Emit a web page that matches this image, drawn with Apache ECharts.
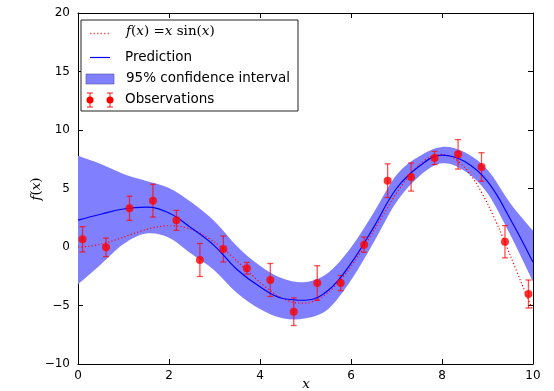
<!DOCTYPE html>
<html><head><meta charset="utf-8">
<script src="https://cdn.jsdelivr.net/npm/echarts@6/dist/echarts.min.js"></script>
<style>html,body{margin:0;padding:0;background:#fff}#c{width:554px;height:391px}</style>
</head><body><div id="c"></div>
<script>
// ---- data ----
const xTickValues = [0, 2, 4, 6, 8, 10];
const yTickValues = [-10, -5, 0, 5, 10, 15, 20];

// true function f(x) = x sin(x) (dotted)
const fX = [0,0.25,0.5,0.75,1,1.25,1.5,1.75,2,2.25,2.5,2.75,3,3.25,3.5,3.75,4,4.25,4.5,4.75,5,5.25,5.5,5.75,6,6.25,6.5,6.75,7,7.25,7.5,7.75,8,8.25,8.5,8.75,9,9.25,9.5,9.75,10];
const fY = [0,0.062,0.240,0.511,0.841,1.186,1.496,1.722,1.819,1.751,1.496,1.050,0.423,-0.352,-1.228,-2.143,-3.027,-3.804,-4.399,-4.747,-4.795,-4.509,-3.880,-2.923,-1.677,-0.207,1.398,3.037,4.599,5.967,7.035,7.708,7.915,7.613,6.787,5.466,3.709,1.612,-0.714,-3.115,-5.440];

// GP prediction and 95% band
const predX = [0,0.5,1,1.5,2,2.5,3,3.5,4,4.5,5,5.5,6,6.5,7,7.5,8,8.5,9,9.5,10];
const predY = [2.3,2.8,3.25,3.4,2.9,1.6,0.1,-1.95,-3.4,-4.4,-4.55,-3.7,-1.4,1.7,5.0,6.9,7.85,7.3,5.6,2.4,-1.3];
const bandUpper = [7.8,7.1,6.25,5.65,5.05,3.8,2.2,0.05,-1.6,-2.7,-3.0,-2.2,-0.05,2.95,6.15,7.75,8.55,8.1,6.6,3.75,1.4];
const bandLower = [-3.2,-1.5,0.25,1.15,0.8,-0.6,-2.0,-3.95,-5.3,-6.1,-6.1,-5.3,-2.85,0.4,3.85,6.05,7.15,6.5,4.6,1.05,-2.95];

// observations with error bars
const obsX = [0.1,0.616,1.132,1.647,2.163,2.679,3.195,3.711,4.226,4.742,5.258,5.774,6.289,6.805,7.321,7.837,8.353,8.868,9.384,9.9];
const obsY = [0.66,-0.03,3.31,3.96,2.28,-1.11,-0.17,-1.82,-2.82,-5.53,-3.08,-3.08,0.2,5.67,5.98,7.61,7.92,6.84,0.45,-4.02];
const obsErr = [1.08,0.79,1.03,1.40,0.85,1.41,1.11,0.50,1.41,1.18,1.48,0.65,0.65,1.44,1.20,0.56,1.26,1.22,1.38,1.20];

const legendLabels = ['f(x) = x sin(x)', 'Prediction', '95% confidence interval', 'Observations'];

// ---- chart ----
const chart = echarts.init(document.getElementById('c'), null, {renderer: 'canvas'});
const RED = '#ff0000', BLUE = '#0000ff', FILL = '#8080ff', ERR = 'rgba(255,0,0,0.7)';
const tickFont = {fontFamily: 'DejaVu Sans', fontSize: 12, color: '#000',
  formatter: v => String(v).replace('-', '\u2212')};
const mathRich = {
  i: {fontFamily: 'DejaVu Serif', fontStyle: 'italic', fontSize: 13.5, color: '#000'},
  r: {fontFamily: 'DejaVu Serif', fontSize: 13.5, color: '#000'}
};
function axisCommon(extra) {
  return Object.assign({
    type: 'value',
    axisLine: {show: true, onZero: false, lineStyle: {color: '#000', width: 1}},
    axisTick: {show: true, inside: true, length: 5, lineStyle: {color: '#000'}},
    splitLine: {show: false}
  }, extra);
}
const xMin = xTickValues[0], xMax = xTickValues[xTickValues.length - 1];
const yMin = yTickValues[0], yMax = yTickValues[yTickValues.length - 1];

// Catmull-Rom spline path segment through pixel points (rendering only)
function splinePath(pts, start) {
  let d = start ? 'M' + pts[0][0] + ',' + pts[0][1] : 'L' + pts[0][0] + ',' + pts[0][1];
  for (let i = 0; i < pts.length - 1; i++) {
    const p0 = pts[Math.max(i - 1, 0)], p1 = pts[i], p2 = pts[i + 1], p3 = pts[Math.min(i + 2, pts.length - 1)];
    const c1 = [p1[0] + (p2[0] - p0[0]) / 6, p1[1] + (p2[1] - p0[1]) / 6];
    const c2 = [p2[0] - (p3[0] - p1[0]) / 6, p2[1] - (p3[1] - p1[1]) / 6];
    d += 'C' + c1[0] + ',' + c1[1] + ',' + c2[0] + ',' + c2[1] + ',' + p2[0] + ',' + p2[1];
  }
  return d;
}

const bandData = predX.map((x, i) => [x, bandLower[i], bandUpper[i]]);

const option = {
  animation: false,
  backgroundColor: '#fff',
  grid: {left: 78, right: 21, top: 13, bottom: 27, show: false, containLabel: false, outerBoundsMode: 'none'},
  xAxis: [
    axisCommon({min: xMin, max: xMax, interval: 2, position: 'bottom',
      axisLabel: Object.assign({margin: 6}, tickFont)}),
    axisCommon({min: xMin, max: xMax, interval: 2, position: 'top', axisLabel: {show: false}})
  ],
  yAxis: [
    axisCommon({min: yMin, max: yMax, interval: 5, position: 'left',
      axisLabel: Object.assign({margin: 8}, tickFont)}),
    axisCommon({min: yMin, max: yMax, interval: 5, position: 'right', axisLabel: {show: false}})
  ],
  series: [
    {
      name: legendLabels[2], type: 'custom', clip: true, silent: true, z: 1,
      data: [0],
      renderItem: function (params, api) {
        const up = bandData.map(d => api.coord([d[0], d[2]]));
        const lo = bandData.map(d => api.coord([d[0], d[1]])).reverse();
        const path = splinePath(up, true) + splinePath(lo, false) + 'Z';
        return {type: 'path', shape: {pathData: path}, style: {fill: FILL, stroke: null}};
      }
    },
    {
      name: legendLabels[0], type: 'line', data: fX.map((x, i) => [x, fY[i]]),
      symbol: 'none', smooth: 0.3,
      lineStyle: {color: RED, width: 1.2, type: [1.2, 2.2]}, z: 3
    },
    {
      name: 'errbars', type: 'custom',
      data: obsX.map((x, i) => [x, obsY[i] - obsErr[i], obsY[i] + obsErr[i]]),
      encode: {x: 0, y: [1, 2]},
      renderItem: function (params, api) {
        const x = api.value(0);
        const p1 = api.coord([x, api.value(1)]);
        const p2 = api.coord([x, api.value(2)]);
        const st = {stroke: ERR, lineWidth: 1.3};
        return {type: 'group', children: [
          {type: 'line', shape: {x1: p1[0], y1: p1[1], x2: p2[0], y2: p2[1]}, style: st},
          {type: 'line', shape: {x1: p1[0] - 3, y1: p1[1], x2: p1[0] + 3, y2: p1[1]}, style: st},
          {type: 'line', shape: {x1: p2[0] - 3, y1: p2[1], x2: p2[0] + 3, y2: p2[1]}, style: st}
        ]};
      },
      z: 4
    },
    {
      name: legendLabels[1], type: 'line', data: predX.map((x, i) => [x, predY[i]]),
      symbol: 'none', smooth: 0.4, lineStyle: {color: BLUE, width: 1.2}, z: 5
    },
    {
      name: legendLabels[3], type: 'scatter', data: obsX.map((x, i) => [x, obsY[i]]),
      symbol: 'circle', symbolSize: 8, itemStyle: {color: RED}, z: 6
    }
  ],
  graphic: [
    // axis titles
    {type: 'text', x: 306, y: 384, z: 50, style: {
      text: '{i|x}', rich: mathRich, align: 'center', verticalAlign: 'middle'}},
    {type: 'text', x: 36, y: 189, rotation: Math.PI / 2, z: 50, style: {
      text: '{i|f}{r|(}{i|x}{r|)}', rich: mathRich, align: 'center', verticalAlign: 'middle'}},
    // legend
    {type: 'rect', shape: {x: 81, y: 20, width: 217, height: 91},
      style: {fill: '#fff', stroke: '#222', lineWidth: 1}, z: 100},
    {type: 'line', shape: {x1: 90, y1: 33.5, x2: 110, y2: 33.5},
      style: {stroke: '#ff6060', lineWidth: 1.5, lineDash: [1.5, 2]}, z: 101},
    {type: 'text', x: 126, y: 24, z: 101, style: {
      text: '{i|f}{r|(}{i|x}{r|) =}{i|x}{r| sin(}{i|x}{r|)}', rich: mathRich}},
    {type: 'line', shape: {x1: 90, y1: 57.5, x2: 110, y2: 57.5},
      style: {stroke: BLUE, lineWidth: 1.2}, z: 101},
    {type: 'text', x: 125, y: 50, z: 101, style: {
      text: legendLabels[1], fontFamily: 'DejaVu Sans', fontSize: 13.5, fill: '#000'}},
    {type: 'rect', shape: {x: 86, y: 74, width: 28, height: 10},
      style: {fill: FILL, stroke: '#5050aa', lineWidth: 0.6}, z: 101},
    {type: 'text', x: 126, y: 71, z: 101, style: {
      text: legendLabels[2], fontFamily: 'DejaVu Sans', fontSize: 13.5, fill: '#000'}},
    {type: 'line', shape: {x1: 90, y1: 93, x2: 90, y2: 107}, style: {stroke: ERR, lineWidth: 1.3}, z: 101},
    {type: 'line', shape: {x1: 87, y1: 93, x2: 93, y2: 93}, style: {stroke: ERR, lineWidth: 1.3}, z: 101},
    {type: 'line', shape: {x1: 87, y1: 107, x2: 93, y2: 107}, style: {stroke: ERR, lineWidth: 1.3}, z: 101},
    {type: 'circle', shape: {cx: 90, cy: 100, r: 3.5}, style: {fill: RED}, z: 102},
    {type: 'line', shape: {x1: 110, y1: 93, x2: 110, y2: 107}, style: {stroke: ERR, lineWidth: 1.3}, z: 101},
    {type: 'line', shape: {x1: 107, y1: 93, x2: 113, y2: 93}, style: {stroke: ERR, lineWidth: 1.3}, z: 101},
    {type: 'line', shape: {x1: 107, y1: 107, x2: 113, y2: 107}, style: {stroke: ERR, lineWidth: 1.3}, z: 101},
    {type: 'circle', shape: {cx: 110, cy: 100, r: 3.5}, style: {fill: RED}, z: 102},
    {type: 'text', x: 125, y: 92, z: 101, style: {
      text: legendLabels[3], fontFamily: 'DejaVu Sans', fontSize: 13.5, fill: '#000'}}
  ]
};
chart.setOption(option);
</script>
</body></html>
